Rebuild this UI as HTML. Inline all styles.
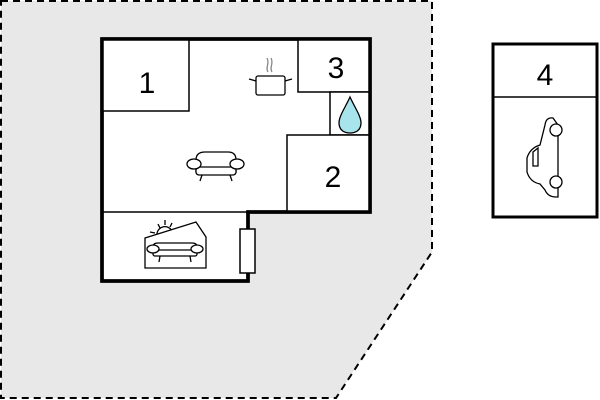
<!DOCTYPE html>
<html><head><style>body{margin:0;background:#fff}svg{display:block}</style></head>
<body>
<svg width="600" height="400" viewBox="0 0 600 400" xmlns="http://www.w3.org/2000/svg" font-family="Liberation Sans, sans-serif">
<polygon points="1,1 432,1 432,252 336,398 1,398" fill="#e8e8e8" stroke="#000" stroke-width="2" stroke-dasharray="7,5"/>
<!-- house -->
<polygon points="102,39 370,39 370,212 248,212 248,281 102,281" fill="#fff" stroke="#000" stroke-width="3.5"/>
<line x1="102" y1="212" x2="248" y2="212" stroke="#000" stroke-width="1.5"/>
<rect x="102" y="39" width="87" height="72" fill="#fff" stroke="#000" stroke-width="1.5"/>
<rect x="298" y="39" width="72" height="53" fill="#fff" stroke="#000" stroke-width="1.5"/>
<rect x="330" y="92" width="40" height="43" fill="#fff" stroke="#000" stroke-width="1.5"/>
<rect x="287" y="135" width="83" height="77" fill="#fff" stroke="#000" stroke-width="1.5"/>
<polygon points="102,39 370,39 370,212 248,212 248,281 102,281" fill="none" stroke="#000" stroke-width="3.5"/>
<rect x="240" y="229" width="15" height="44" fill="#fff" stroke="#000" stroke-width="1.5"/>
<text x="147" y="93" font-size="30" text-anchor="middle">1</text>
<text x="336" y="78" font-size="30" text-anchor="middle">3</text>
<text x="333" y="187" font-size="30" text-anchor="middle">2</text>
<!-- water drop -->
<path d="M350,97 C345,108 339,116 339,123 C339,130 344,133 350,133 C356,133 361,130 361,123 C361,116 355,108 350,97Z" fill="#a8e4ec" stroke="#000" stroke-width="1.3"/>
<!-- pot -->
<g fill="none" stroke="#000" stroke-width="1.3">
<rect x="256" y="76" width="29" height="19" rx="2" fill="#fff"/>
<line x1="256" y1="81" x2="249" y2="79"/><line x1="285" y1="81" x2="292" y2="79"/>
<path d="M268,72 C265,67 270,64 267,58 M272,72 C269,67 274,64 271,58" stroke="#888"/>
</g>
<!-- sofa -->
<g fill="#fff" stroke="#000" stroke-width="1.3">
<path d="M196,172 L196,160 Q196,152 205,152 L228,152 Q236,152 236,160 L236,172 Z"/>
<rect x="196" y="167" width="40" height="8" rx="3"/>
<ellipse cx="194" cy="164" rx="7" ry="5"/><ellipse cx="237" cy="164" rx="7" ry="5"/>
<line x1="202" y1="175" x2="200" y2="181"/><line x1="230" y1="175" x2="232" y2="181"/>
</g>
<!-- veranda icon -->
<g fill="#fff" stroke="#000" stroke-width="1.3">
<path d="M157,236 A8,8 0 0 1 172,231" fill="none"/>
<line x1="158" y1="224" x2="160" y2="228"/><line x1="165" y1="220" x2="165" y2="225"/><line x1="172" y1="223" x2="170" y2="227"/><line x1="150" y1="232" x2="155" y2="233"/>
<polygon points="145,238 196,222 206,237 206,268 145,268"/>
<path d="M153,252 L153,247 Q153,243 158,243 L192,243 Q197,243 197,247 L197,252Z"/>
<rect x="153" y="250" width="44" height="6" rx="2"/>
<ellipse cx="153" cy="249" rx="6" ry="4"/><ellipse cx="197" cy="249" rx="6" ry="4"/>
<line x1="160" y1="256" x2="159" y2="262"/><line x1="190" y1="256" x2="191" y2="262"/>
</g>
<!-- garage -->
<rect x="493" y="44" width="104" height="173" fill="#fff" stroke="#000" stroke-width="3"/>
<line x1="493" y1="97" x2="597" y2="97" stroke="#000" stroke-width="1.5"/>
<text x="545" y="85" font-size="30" text-anchor="middle">4</text>
<g fill="none" stroke="#000" stroke-width="1.3">
<path d="M558,125 L553,118 Q546,117 545,125 L540,145 Q530,148 527,158 L527,172 Q530,182 540,184 L545,190 Q548,197 556,197 L558,197 L558,125Z" fill="#fff"/>
<circle cx="556" cy="130" r="6" fill="#fff"/><circle cx="556" cy="182" r="6" fill="#fff"/>
<path d="M533,152 L538,148 L538,166 L533,166Z"/>
</g>
</svg>
</body></html>
